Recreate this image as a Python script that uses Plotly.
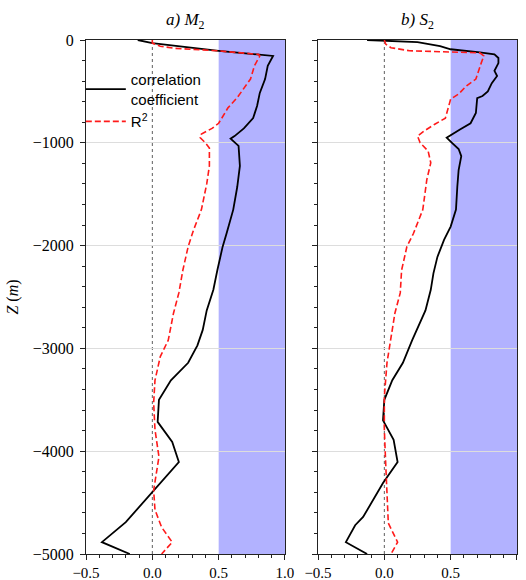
import plotly.graph_objects as go

# Depth profiles (m) and values for the M2 constituent
m2_corr_z = [0, -30, -105, -140, -155, -250, -380, -515, -640, -760, -860, -935, -960, -1030,
             -1225, -1430, -1650, -1880, -2010, -2240, -2430, -2630, -2820, -2970, -3140, -3310,
             -3500, -3715, -3910, -4105, -4380, -4690, -4885, -5000]
m2_corr = [-0.11, 0.0, 0.5, 0.83, 0.91, 0.87, 0.85, 0.81, 0.79, 0.76, 0.69, 0.62, 0.59, 0.65,
           0.66, 0.64, 0.61, 0.56, 0.53, 0.49, 0.46, 0.41, 0.38, 0.34, 0.27, 0.14,
           0.05, 0.04, 0.15, 0.20, 0.01, -0.20, -0.38, -0.17]

m2_r2_z = [0, -30, -60, -80, -105, -140, -155, -250, -380, -495, -560, -660, -760, -810, -860,
           -915, -950, -1000, -1050, -1225, -1400, -1650, -1850, -2010, -2240, -2460, -2655,
           -2920, -3080, -3310, -3530, -3790, -4055, -4215, -4380, -4570, -4740, -4885, -5000]
m2_r2 = [0.0, 0.0, 0.06, 0.16, 0.49, 0.80, 0.81, 0.77, 0.74, 0.68, 0.64, 0.57, 0.52, 0.50, 0.45,
         0.37, 0.36, 0.40, 0.43, 0.43, 0.41, 0.37, 0.31, 0.27, 0.23, 0.20, 0.16,
         0.12, 0.06, 0.02, 0.01, 0.02, 0.05, 0.03, 0.01, 0.02, 0.07, 0.15, 0.07]

# Depth profiles (m) and values for the S2 constituent
s2_corr_z = [0, -20, -60, -90, -120, -140, -175, -225, -300, -350, -420, -500, -545, -565, -710,
             -810, -870, -915, -950, -1000, -1060, -1130, -1265, -1430, -1650, -1815, -1945,
             -2110, -2270, -2430, -2630, -2920, -3015, -3140, -3310, -3500, -3700, -3790, -3890,
             -4105, -4310, -4640, -4720, -4885, -5000]
s2_corr = [-0.13, 0.25, 0.42, 0.50, 0.72, 0.83, 0.86, 0.86, 0.83, 0.85, 0.81, 0.78, 0.74, 0.70, 0.69,
           0.65, 0.57, 0.51, 0.47, 0.51, 0.56, 0.58, 0.56, 0.55, 0.54, 0.50, 0.45,
           0.40, 0.37, 0.35, 0.31, 0.21, 0.18, 0.14, 0.06, 0.0, -0.01, 0.03, 0.07,
           0.10, -0.01, -0.16, -0.22, -0.29, -0.13]

s2_r2_z = [0, -40, -75, -105, -125, -155, -225, -300, -380, -445, -525, -575, -660, -760, -820,
           -885, -935, -1000, -1080, -1195, -1360, -1650, -1880, -2010, -2240, -2460, -2655,
           -2920, -3140, -3470, -3790, -4115, -4445, -4700, -4885, -5000]
s2_r2 = [0.0, 0.01, 0.05, 0.19, 0.72, 0.75, 0.73, 0.71, 0.69, 0.62, 0.56, 0.50, 0.48, 0.46, 0.38,
         0.30, 0.25, 0.27, 0.33, 0.35, 0.32, 0.29, 0.22, 0.17, 0.13, 0.12, 0.08,
         0.05, 0.02, 0.0, 0.0, 0.01, 0.02, 0.03, 0.10, 0.05]

panel_titles = ["<i>a) M</i><sub>2</sub>", "<i>b) S</i><sub>2</sub>"]
x_ticks = [-0.5, 0.0, 0.5, 1.0]
x_labels = ["\u22120.5", "0.0", "0.5", "1.0"]
z_ticks = [0, -1000, -2000, -3000, -4000, -5000]
z_labels = ["0", "\u22121000", "\u22122000", "\u22123000", "\u22124000", "\u22125000"]

SERIF = "Liberation Serif"
SANS = "Liberation Sans"

fig = go.Figure()

panels = [(m2_corr, m2_corr_z, m2_r2, m2_r2_z), (s2_corr, s2_corr_z, s2_r2, s2_r2_z)]
for i, (corr, corr_z, r2, r2_z) in enumerate(panels):
    xa = "x" if i == 0 else "x2"
    ya = "y" if i == 0 else "y2"
    fig.add_trace(go.Scatter(x=corr, y=corr_z, mode="lines", xaxis=xa, yaxis=ya,
                             line=dict(color="black", width=1.8),
                             name="correlation<br>coefficient", showlegend=(i == 0)))
    fig.add_trace(go.Scatter(x=r2, y=r2_z, mode="lines", xaxis=xa, yaxis=ya,
                             line=dict(color="#ff1a1a", width=1.6, dash="6px,3px"),
                             name="R<sup>2</sup>", showlegend=(i == 0)))
    # high-correlation band and zero reference line
    fig.add_shape(type="rect", xref=xa, yref=ya, x0=0.5, x1=1.0, y0=-5000, y1=0,
                  fillcolor="blue", opacity=0.3, line_width=0, layer="below")
    fig.add_shape(type="line", xref=xa, yref=ya, x0=0, x1=0, y0=-5000, y1=0,
                  line=dict(color="#333333", width=0.8, dash="dot"), layer="below")

axis_common = dict(showline=True, linecolor="#222222", linewidth=1, mirror=True,
                   ticks="outside", ticklen=5, tickcolor="#222222", automargin=False,
                   zeroline=False)

xcommon = dict(axis_common, range=[-0.5, 1.0], tickmode="array", tickvals=x_ticks,
               ticktext=x_labels, showgrid=False,
               tickfont=dict(family=SERIF, size=15, color="black"),
               minor=dict(dtick=0.1, tick0=0, ticks="outside", ticklen=3, tickcolor="#222222"))
ycommon = dict(axis_common, range=[-5000, 0], tickmode="array", tickvals=z_ticks, showgrid=True,
               gridcolor="#dddddd", gridwidth=0.8, ticklabelstandoff=3,
               tickfont=dict(family=SERIF, size=16, color="black"),
               minor=dict(dtick=200, tick0=0, ticks="outside", ticklen=3, tickcolor="#222222",
                          showgrid=False))

fig.update_layout(
    width=526, height=580,
    margin=dict(l=86, r=9, t=40, b=26),
    paper_bgcolor="white", plot_bgcolor="white",
    font=dict(family=SERIF, size=15, color="black"),
    xaxis=dict(xcommon, domain=[0, 0.4617], anchor="y"),
    xaxis2=dict(xcommon, domain=[0.5383, 1.0], anchor="y2"),
    yaxis=dict(ycommon, anchor="x", ticktext=z_labels,
               title=dict(text="<i>Z</i> (<i>m</i>)", standoff=10,
                          font=dict(family=SERIF, size=16, color="black"))),
    yaxis2=dict(ycommon, anchor="x2", showticklabels=False),
    legend=dict(x=-0.012, y=0.955, xanchor="left", yanchor="top",
                bgcolor="rgba(0,0,0,0)", borderwidth=0, itemwidth=40,
                font=dict(family=SANS, size=15, color="black"), tracegroupgap=4),
    showlegend=True,
)

for i, title in enumerate(panel_titles):
    xc = 0.4617 / 2 if i == 0 else (0.5383 + 1.0) / 2
    fig.add_annotation(text=title, xref="paper", yref="paper", x=xc, y=1.0,
                       xanchor="center", yanchor="bottom", yshift=6, showarrow=False,
                       font=dict(family=SERIF, size=17, color="black"))

fig.write_html("out.html")
